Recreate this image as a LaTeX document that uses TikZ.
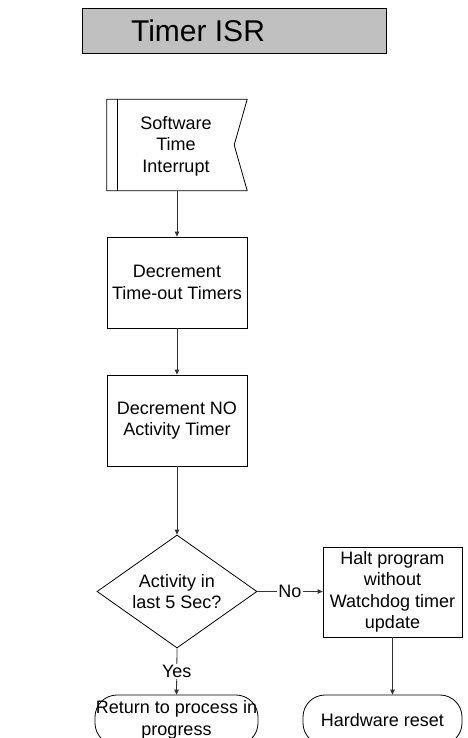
\documentclass[tikz,border=0pt]{standalone}
\usepackage{fontspec}
\setmainfont{Liberation Sans}
\usetikzlibrary{arrows.meta,shapes.geometric}
\definecolor{titlegray}{HTML}{C0C0C0}
\definecolor{linegray}{HTML}{333333}
\begin{document}
\begin{tikzpicture}[x=1pt,y=-1pt,
  every node/.style={font=\fontsize{18}{21.5}\selectfont, align=center},
  box/.style={draw, line width=0.8pt, minimum width=140pt, minimum height=91pt, inner sep=0pt},
  term/.style={draw, line width=0.8pt, rounded corners=22pt, minimum height=50pt, inner sep=0pt},
  decision/.style={draw, line width=0.8pt, diamond, aspect=1.416, minimum width=160pt, minimum height=113pt, inner sep=0pt},
  flow/.style={draw=linegray, line width=0.8pt, -{Triangle[length=5pt,width=4.5pt]}},
  lbl/.style={fill=white, inner sep=1pt}
]
\useasboundingbox (0,0) rectangle (467,738);
\clip (0,0) rectangle (467,738);

% heading bar
\node[draw, line width=0.8pt, fill=titlegray, minimum width=304pt, minimum height=45pt, inner sep=0pt] (title) at (234,30.5) {};
\node[font=\fontsize{30}{36}\selectfont, inner sep=0pt] (titletext) at (198,30.5) {Timer ISR};

% interrupt entry symbol
\node[minimum width=140pt, minimum height=91pt, inner sep=0pt] (start) at (177,145) {};
\draw[line width=0.8pt] (start.north west) -- (start.north east) -- ([xshift=-13pt]start.east)
  -- (start.south east) -- (start.south west) -- cycle;
\draw[line width=0.8pt] ([xshift=11pt]start.north west) -- ([xshift=11pt]start.south west);
\node (starttext) at (176,146) {Software\\Time\\Interrupt};

% processing steps
\node[box] (dec1) at (177,282.5) {Decrement\\Time-out Timers};
\node[box] (dec2) at (177,420.5) {Decrement NO\\Activity Timer};
\node[decision] (check) at (177,591.5) {Activity in\\last 5 Sec?};
\node[box, minimum width=139pt, minimum height=90pt] (halt) at (392.5,592) {Halt program\\without\\Watchdog timer\\update};

% terminals
\node[term, minimum width=163pt] (ret) at (176.5,720) {Return to process in\\progress};
\node[term, minimum width=159pt] (hw) at (382.5,720) {Hardware reset};

% connectors
\draw[flow] (start.south) -- (dec1.north);
\draw[flow] (dec1.south) -- (dec2.north);
\draw[flow] (dec2.south) -- (check.north);
\draw[flow] (check.east) -- node[lbl] {No} (check.east -| halt.west);
\draw[flow] (check.south) -- node[lbl] {Yes} (ret.north);
\draw[flow] (halt.south) -- (halt.south |- hw.north);
\end{tikzpicture}
\end{document}
